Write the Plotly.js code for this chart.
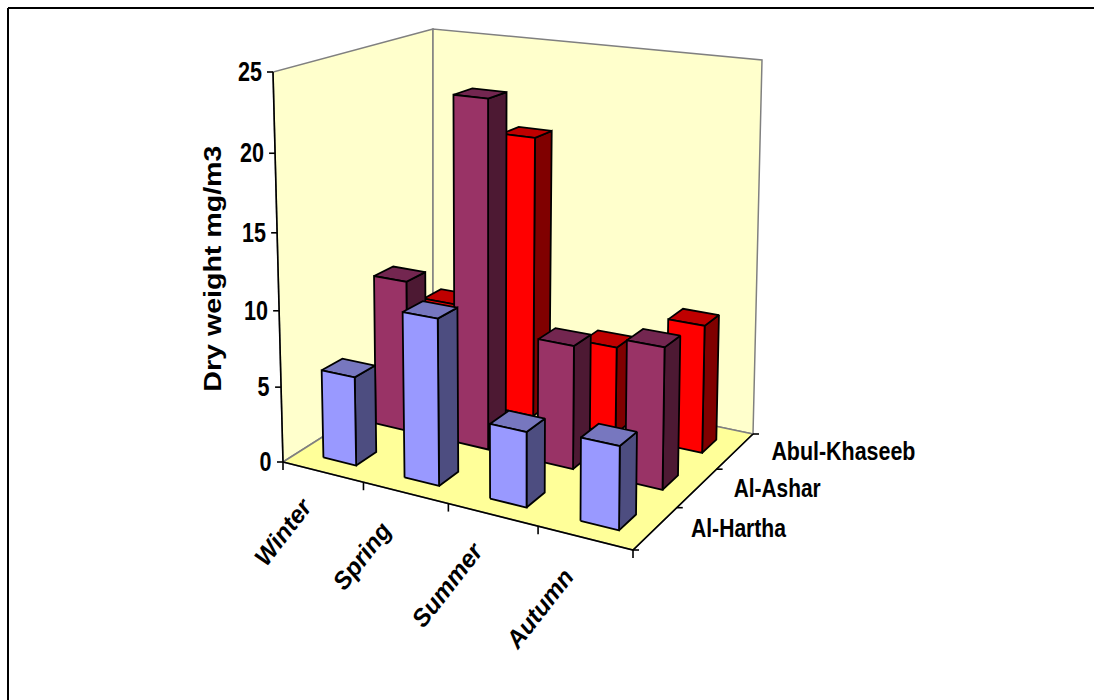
<!DOCTYPE html>
<html>
<head>
<meta charset="utf-8">
<script src="https://cdn.plot.ly/plotly-3.0.1.min.js"></script>
<style>html,body{margin:0;padding:0;background:#fff;overflow:hidden}</style>
</head>
<body>
<div id="chart" style="width:1094px;height:700px"></div>
<script>
// Dry weight by season and station
const seasons = ['Winter', 'Spring', 'Summer', 'Autumn'];
const stations = ['Al-Hartha', 'Al-Ashar', 'Abul-Khaseeb'];
const alHartha = [5.85, 10.7, 4.75, 5.15];
const alAshar = [10.3, 23.0, 8.1, 9.1];
const abulKhaseeb = [6.9, 19.3, 6.0, 8.55];
const yTicks = [0, 5, 10, 15, 20, 25];

const stationValues = [alHartha, alAshar, abulKhaseeb];
const faceColours = [
  {front: '#9999FF', side: '#4D4D80', top: '#7777BF'},
  {front: '#993366', side: '#4D1933', top: '#732650'},
  {front: '#FF0000', side: '#800000', top: '#BF0000'}
];

// Oblique view of the plot box: screen corners of its floor and its ceiling
const floorCorners = [[283, 462], [633, 550], [753, 434], [433, 367]];
const ceilingCorners = [[273, 72], [637, 113], [762, 60], [433, 29]];
const yMax = 25, foreshorten = 0.05;
const barWidth = 0.41, barDepth = 0.38, barCentreU = 0.51, barCentreV = 0.485;

function quadMap(q) {
  const [p0, p1, p2, p3] = q;
  const dx1 = p1[0] - p2[0], dx2 = p3[0] - p2[0], sx = p0[0] - p1[0] + p2[0] - p3[0];
  const dy1 = p1[1] - p2[1], dy2 = p3[1] - p2[1], sy = p0[1] - p1[1] + p2[1] - p3[1];
  const det = dx1 * dy2 - dx2 * dy1;
  const g = (sx * dy2 - dx2 * sy) / det, h = (dx1 * sy - sx * dy1) / det;
  const a = p1[0] - p0[0] + g * p1[0], b = p3[0] - p0[0] + h * p3[0];
  const d = p1[1] - p0[1] + g * p1[1], e = p3[1] - p0[1] + h * p3[1];
  return (s, t) => {
    const w = 1 + g * s + h * t;
    return [(a * s + b * t + p0[0]) / w, (d * s + e * t + p0[1]) / w];
  };
}
const floorMap = quadMap(floorCorners), ceilingMap = quadMap(ceilingCorners);

// Category position u, series position v and value h to plot coordinates
function project(u, v, h) {
  const s = u / seasons.length, t = v / stations.length, r = h / yMax;
  const f = floorMap(s, t), c = ceilingMap(s, t);
  const k = r * (1 - foreshorten) / (1 - foreshorten * r);
  return [f[0] + (c[0] - f[0]) * k, f[1] + (c[1] - f[1]) * k];
}

function polygon(points, fill, line, width) {
  const pts = points.concat([points[0]]);
  return {
    type: 'scatter', mode: 'lines', x: pts.map(p => p[0]), y: pts.map(p => p[1]),
    fill: 'toself', fillcolor: fill, line: {color: line, width: width},
    hoverinfo: 'skip', showlegend: false
  };
}
function stroke(points, colour, width) {
  return {
    type: 'scatter', mode: 'lines', x: points.map(p => p[0]), y: points.map(p => p[1]),
    line: {color: colour, width: width}, hoverinfo: 'skip', showlegend: false
  };
}

const U = seasons.length, V = stations.length;
const traces = [];

// Walls and floor
traces.push(polygon([project(0,0,0), project(0,V,0), project(0,V,yMax), project(0,0,yMax)], '#FFFFCC', '#808080', 1.5));
traces.push(polygon([project(0,V,0), project(U,V,0), project(U,V,yMax), project(0,V,yMax)], '#FFFFCC', '#808080', 1.5));
traces.push(polygon([project(0,0,0), project(U,0,0), project(U,V,0), project(0,V,0)], '#FFFF99', '#808080', 1.5));

// Axis edges and tick marks
traces.push(stroke([project(0,0,0), project(0,0,yMax)], '#000', 1.6));
traces.push(stroke([project(0,0,0), project(U,0,0), project(U,V,0)], '#000', 1.6));
yTicks.forEach(tick => {
  const p = project(0, 0, tick);
  traces.push(stroke([p, [p[0] - 6, p[1]]], '#000', 1.6));
});
for (let i = 0; i <= U; i++) {
  const p = project(i, 0, 0);
  traces.push(stroke([p, [p[0], p[1] + 8]], '#000', 1.6));
}
for (let j = 0; j <= V; j++) {
  const p = project(U, j, 0);
  traces.push(stroke([p, [p[0] + 6, p[1]]], '#000', 1.6));
}

// Bars, back row first, left to right
for (let j = V - 1; j >= 0; j--) {
  stationValues[j].forEach((value, i) => {
    const u0 = i + barCentreU - barWidth / 2, u1 = u0 + barWidth;
    const v0 = j + barCentreV - barDepth / 2, v1 = v0 + barDepth;
    const c = faceColours[j];
    traces.push(polygon([project(u1,v0,0), project(u1,v1,0), project(u1,v1,value), project(u1,v0,value)], c.side, '#000', 1.8));
    traces.push(polygon([project(u0,v0,value), project(u1,v0,value), project(u1,v1,value), project(u0,v1,value)], c.top, '#000', 1.8));
    traces.push(polygon([project(u0,v0,0), project(u1,v0,0), project(u1,v0,value), project(u0,v0,value)], c.front, '#000', 1.8));
  });
}

// Labels; condensed or widened lengths are applied to the text after drawing
const annotations = [];
const textLengths = [];
function label(pos, text, font, opts, length) {
  annotations.push(Object.assign({
    x: pos[0], y: pos[1], xref: 'x', yref: 'y', text: text, showarrow: false, font: font,
    xanchor: 'center', yanchor: 'middle'
  }, opts));
  textLengths.push(length);
}
const boldFamily = '"Liberation Sans", Arial';
const tickFont = {family: boldFamily, size: 27, color: '#000', weight: 'bold'};
const seriesFont = {family: boldFamily, size: 26, color: '#000', weight: 'bold'};
const seasonFont = {family: boldFamily, size: 24.5, color: '#000', weight: 'bold', style: 'italic'};
const titleFont = {family: boldFamily, size: 24, color: '#000', weight: 'bold'};
const digitWidth = 12;
const seriesLengths = [95, 87, 144];
const seasonShiftX = [-39, -43, -45, -45];
const seasonShiftY = [60, 63, 70, 71];

yTicks.forEach(tick => {
  const w = String(tick).length * digitWidth;
  label(project(0, 0, tick), String(tick), tickFont, {xshift: -11.5 - w / 2}, w);
});
seasons.forEach((name, i) => {
  label(project(i + 0.5, 0, 0), name, seasonFont,
        {xshift: seasonShiftX[i], yshift: -seasonShiftY[i], textangle: -52}, null);
});
stations.forEach((name, j) => {
  label(project(U, j + 0.5, 0), name, seriesFont, {xshift: 36 + seriesLengths[j] / 2}, seriesLengths[j]);
});
label([212, 269], 'Dry weight mg/m3', titleFont, {textangle: -90}, 246);

Plotly.newPlot('chart', traces, {
  width: 1094, height: 700,
  margin: {l: 0, r: 0, t: 0, b: 0},
  paper_bgcolor: '#fff', plot_bgcolor: '#fff',
  showlegend: false,
  xaxis: {range: [0, 1094], visible: false, fixedrange: true},
  yaxis: {range: [700, 0], visible: false, fixedrange: true},
  annotations: annotations,
  shapes: [
    {type: 'line', xref: 'paper', yref: 'paper', x0: 8/1094, x1: 1, y0: 1 - 8/700, y1: 1 - 8/700, line: {color: '#000', width: 2}},
    {type: 'line', xref: 'paper', yref: 'paper', x0: 8/1094, x1: 8/1094, y0: 0, y1: 1 - 8/700, line: {color: '#000', width: 2}}
  ]
}, {displayModeBar: false, staticPlot: true}).then(gd => {
  gd.querySelectorAll('.annotation').forEach(node => {
    const length = textLengths[+node.getAttribute('data-index')];
    const text = node.querySelector('text');
    if (length && text) {
      text.setAttribute('textLength', length);
      text.setAttribute('lengthAdjust', 'spacingAndGlyphs');
    }
  });
});
</script>
</body>
</html>
